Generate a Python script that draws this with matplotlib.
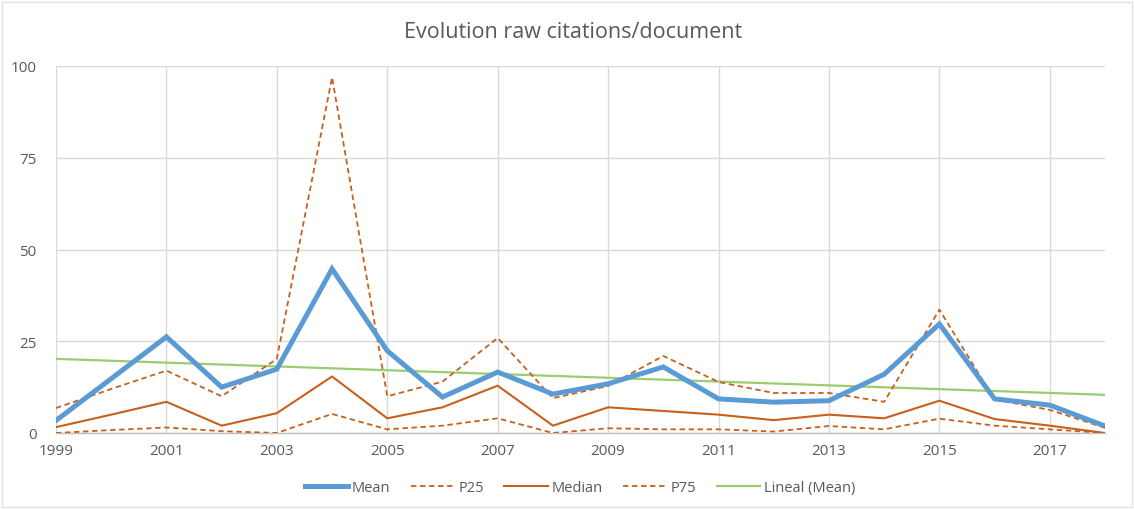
import numpy as np
import matplotlib
matplotlib.use("Agg")
import matplotlib.pyplot as plt
from matplotlib.patches import Rectangle

plt.rcParams['font.family'] = ['Open Sans', 'DejaVu Sans']

years = list(range(1999, 2019))
mean = [3.4, 14.8, 26.2, 12.5, 17.4, 44.7, 22.4, 9.8, 16.6, 10.6, 13.4, 18.0,
        9.3, 8.4, 8.8, 16.0, 29.7, 9.3, 7.6, 1.9]
p25 = [0.0, 0.8, 1.5, 0.5, 0.0, 5.2, 1.0, 2.0, 4.0, 0.0, 1.3, 1.0,
       1.0, 0.4, 1.9, 1.0, 3.9, 2.0, 1.0, 0.0]
median = [1.6, 5.0, 8.5, 2.0, 5.4, 15.4, 4.0, 7.0, 12.9, 2.0, 7.0, 6.0,
          5.0, 3.5, 5.0, 4.0, 8.8, 3.8, 2.0, 0.0]
p75 = [6.8, 12.0, 17.0, 10.0, 20.2, 96.9, 10.0, 14.0, 25.9, 9.5, 12.8, 21.0,
       13.9, 10.9, 10.9, 8.5, 33.6, 9.1, 6.3, 1.4]
trend_years = [1999, 2018]
trend_mean = [20.2, 10.4]
xticks = list(range(1999, 2019, 2))
yticks = [0, 25, 50, 75, 100]

blue = '#5B9BD5'
orange = '#C8601C'
green = '#9ACD6E'
grid = '#D9D9D9'
txt = '#595959'

fig = plt.figure(figsize=(11.34, 5.10), dpi=100)
fig.patches.append(Rectangle((2/1134, 2/510), 1130/1134, 505/510, transform=fig.transFigure,
                             fill=False, edgecolor='#E3E3E3', lw=1.0))
ax = fig.add_axes([56/1134, 1-434/510, (1105-56)/1134, (434-67)/510])

ax.plot(years, mean, color=blue, lw=3.6, solid_joinstyle='miter', label='Mean', zorder=5)
ax.plot(years, p25, color=orange, lw=1.3, ls=(0, (3, 2)), label='P25', zorder=4)
ax.plot(years, median, color=orange, lw=1.5, label='Median', zorder=4)
ax.plot(years, p75, color=orange, lw=1.3, ls=(0, (3, 2)), label='P75', zorder=4)
ax.plot(trend_years, trend_mean, color=green, lw=1.6, label='Lineal (Mean)', zorder=3)

ax.set_xlim(1999, 2018)
ax.set_ylim(0, 100)
ax.set_xticks(xticks)
ax.set_yticks(yticks)
ax.grid(True, color=grid, lw=1.0)
ax.set_axisbelow(True)
for s in ['top', 'right', 'left']:
    ax.spines[s].set_visible(False)
ax.spines['bottom'].set_color('#BFBFBF')
ax.spines['bottom'].set_linewidth(1.0)
ax.tick_params(axis='both', length=0, colors=txt, labelsize=11)
ax.tick_params(axis='y', pad=14)
ax.tick_params(axis='x', pad=7)

fig.text(573/1134, 1-33/510, 'Evolution raw citations/document', ha='center', va='center',
         fontsize=15.5, color=txt)

leg = fig.legend(loc='center', bbox_to_anchor=(580/1134, 1-489/510), ncol=5, frameon=False,
                 fontsize=10.5, handlelength=3.0, columnspacing=1.4, handletextpad=0.25,
                 labelcolor=txt)

fig.savefig('out.png', dpi=100)
